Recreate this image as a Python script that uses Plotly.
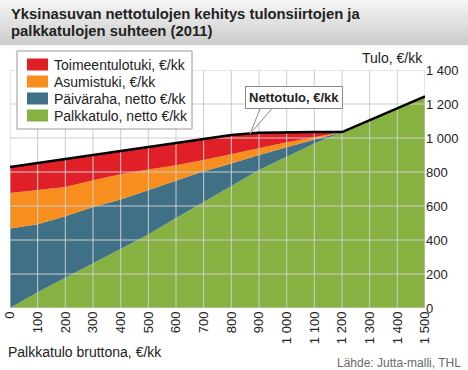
import numpy as np
import plotly.graph_objects as go

# ---------------- data ----------------
gross_wage = [0, 100, 200, 300, 400, 500, 600, 700, 800, 900, 1000, 1100, 1200, 1300, 1400, 1500]
palkkatulo_netto = [0, 93, 178, 264, 349, 432, 530, 625, 720, 812, 890, 968, 1035, 1105, 1175, 1245]
paivaraha_netto = [467, 399, 362, 330, 289, 263, 222, 180, 130, 88, 55, 20, 0, 0, 0, 0]
asumistuki = [210, 201, 172, 158, 149, 120, 88, 65, 55, 40, 30, 17, 0, 0, 0, 0]
toimeentulotuki = [153, 160, 165, 148, 137, 132, 131, 125, 113, 91, 60, 30, 0, 0, 0, 0]

x_ticks = [0, 100, 200, 300, 400, 500, 600, 700, 800, 900, 1000, 1100, 1200, 1300, 1400, 1500]
x_ticktext = ["0", "100", "200", "300", "400", "500", "600", "700", "800", "900",
              "1 000", "1 100", "1 200", "1 300", "1 400", "1 500"]
y_ticks = [0, 200, 400, 600, 800, 1000, 1200, 1400]
y_ticktext = ["0", "200", "400", "600", "800", "1 000", "1 200", "1 400"]

series_names = ["Palkkatulo, netto €/kk", "Päiväraha, netto €/kk", "Asumistuki, €/kk", "Toimeentulotuki, €/kk"]
series_colors = ["#87b241", "#3f7086", "#f78e1e", "#e01f26"]

nettotulo = (np.array(palkkatulo_netto) + np.array(paivaraha_netto)
             + np.array(asumistuki) + np.array(toimeentulotuki))

FONT = "Liberation Sans, Arial, sans-serif"
W, H = 468, 370
ML, MR, MT, MB = 10, 43, 70, 62
PW, PH = W - ML - MR, H - MT - MB


def px(xp):
    return (xp - ML) / PW


def py(yp):
    return (H - MB - yp) / PH


fig = go.Figure()

for name, vals, col in zip(series_names,
                           [palkkatulo_netto, paivaraha_netto, asumistuki, toimeentulotuki],
                           series_colors):
    fig.add_trace(go.Scatter(x=gross_wage, y=vals, name=name, stackgroup="one",
                             mode="lines", line=dict(width=0, color=col),
                             fillcolor=col, showlegend=False, hoverinfo="skip"))

# gridlines drawn over the areas but below the total line
gx, gy = [], []
for xv in x_ticks:
    gx += [xv, xv, None]
    gy += [y_ticks[0], y_ticks[-1], None]
for yv in y_ticks:
    gx += [x_ticks[0], x_ticks[-1], None]
    gy += [yv, yv, None]
fig.add_trace(go.Scatter(x=gx, y=gy, mode="lines", line=dict(color="#cdcdcd", width=1),
                         showlegend=False, hoverinfo="skip"))

fig.add_trace(go.Scatter(x=gross_wage, y=nettotulo, mode="lines", name="Nettotulo, €/kk",
                         line=dict(color="#000000", width=2.5), showlegend=False,
                         hoverinfo="skip"))

shapes = []
annotations = []

# title band gradient
n = 15
for i in range(n):
    t = i / (n - 1)
    c = int(244 - t * 38)
    shapes.append(dict(type="rect", xref="paper", yref="paper",
                       x0=px(0), x1=px(W), y0=py(i * 3), y1=py(i * 3 + 3.2),
                       fillcolor=f"rgb({c},{c},{c})", line=dict(width=0), layer="below"))

annotations.append(dict(text="Yksinasuvan nettotulojen kehitys tulonsiirtojen ja",
                        xref="paper", yref="paper", x=px(9), y=py(14.5),
                        xanchor="left", yanchor="middle", showarrow=False,
                        font=dict(family=FONT, size=14.8, color="#222222", weight="bold")))
annotations.append(dict(text="palkkatulojen suhteen (2011)",
                        xref="paper", yref="paper", x=px(9), y=py(31.5),
                        xanchor="left", yanchor="middle", showarrow=False,
                        font=dict(family=FONT, size=14.8, color="#222222", weight="bold")))

# legend (manual)
shapes.append(dict(type="rect", xref="paper", yref="paper", x0=px(17), x1=px(192),
                   y0=py(51), y1=py(129), fillcolor="white",
                   line=dict(color="#9a9a9a", width=1), layer="above"))
legend_order = [3, 2, 1, 0]
for row, idx in enumerate(legend_order):
    cy = 64.5 + row * 17
    shapes.append(dict(type="rect", xref="paper", yref="paper", x0=px(27), x1=px(48),
                       y0=py(cy - 6), y1=py(cy + 6), fillcolor=series_colors[idx],
                       line=dict(width=0), layer="above"))
    annotations.append(dict(text=series_names[idx], xref="paper", yref="paper",
                            x=px(52), y=py(cy), xanchor="left", yanchor="middle",
                            showarrow=False, font=dict(family=FONT, size=14, color="#222222")))

# Nettotulo callout wedge
shapes.append(dict(type="path", xref="paper", yref="paper",
                   path=f"M{px(262)},{py(104)} L{px(250)},{py(134)} L{px(276)},{py(104)} Z",
                   fillcolor="white", line=dict(color="#8a8a8a", width=1), layer="above"))
annotations.append(dict(text="<b>Nettotulo, €/kk</b>", xref="paper", yref="paper",
                        x=px(293.5), y=py(97), xanchor="center", yanchor="middle",
                        showarrow=False, bgcolor="white", bordercolor="#8a8a8a",
                        borderwidth=1, borderpad=3,
                        font=dict(family=FONT, size=13, color="#222222")))

annotations.append(dict(text="Tulo, €/kk", xref="paper", yref="paper", x=px(425), y=py(58),
                        xanchor="right", yanchor="middle", showarrow=False,
                        font=dict(family=FONT, size=14, color="#222222")))
annotations.append(dict(text="Palkkatulo bruttona, €/kk", xref="paper", yref="paper",
                        x=px(6), y=py(352), xanchor="left", yanchor="middle", showarrow=False,
                        font=dict(family=FONT, size=14, color="#222222")))
annotations.append(dict(text="Lähde: Jutta-malli, THL", xref="paper", yref="paper",
                        x=px(463), y=py(363), xanchor="right", yanchor="middle",
                        showarrow=False, font=dict(family=FONT, size=12, color="#6a6a6a")))

fig.update_layout(
    width=W, height=H,
    margin=dict(l=ML, r=MR, t=MT, b=MB, pad=0, autoexpand=False),
    paper_bgcolor="white", plot_bgcolor="white",
    showlegend=False,
    shapes=shapes, annotations=annotations,
    xaxis=dict(range=[x_ticks[0], x_ticks[-1]], tickvals=x_ticks, ticktext=x_ticktext,
               tickangle=-90, showgrid=False, zeroline=False, showline=False, ticks="",
               automargin=False,
               tickfont=dict(family=FONT, size=13, color="#222222"), fixedrange=True),
    yaxis=dict(range=[y_ticks[0], y_ticks[-1]], tickvals=y_ticks, ticktext=y_ticktext,
               side="right", showgrid=False, zeroline=False, showline=False, ticks="",
               automargin=False,
               tickfont=dict(family=FONT, size=13, color="#222222"), fixedrange=True),
)

fig.write_html("out.html", config={"displayModeBar": False},
               post_script="document.body.style.margin='0';document.body.style.padding='0';"
                           "document.documentElement.style.overflow='hidden';")
